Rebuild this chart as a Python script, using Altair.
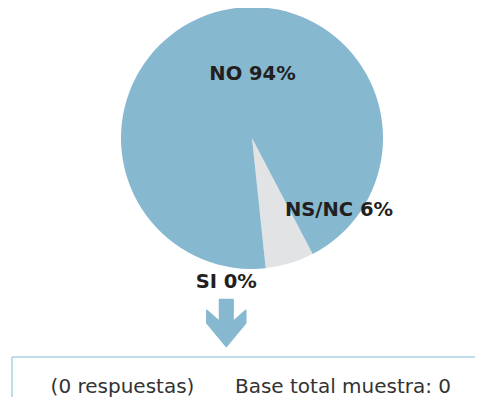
import altair as alt
import pandas as pd
import math

categorias = ["NS/NC", "SI", "NO"]
valores = [6, 0, 94]
colores = ["#E2E3E5", "#86B8D0", "#86B8D0"]
respuestas = 0
base_total = 0

df = pd.DataFrame({
    "categoria": categorias,
    "valor": valores,
    "orden": list(range(len(categorias))),
})
df["etiqueta"] = df["categoria"] + " " + df["valor"].astype(str) + "%"

start = math.radians(152.4)

W, H = 467, 389
CX, CY, R = 244, 130, 131

base = alt.Chart(df)

pie = base.mark_arc(radius=R, stroke=None).encode(
    x=alt.value(CX),
    y=alt.value(CY),
    theta=alt.Theta("valor:Q", stack=True, scale=alt.Scale(range=[start, start + 2 * math.pi])),
    order=alt.Order("orden:Q"),
    color=alt.Color("categoria:N", scale=alt.Scale(domain=categorias, range=colores), legend=None),
)

label_pos = {"NO": (244.5, 65.5), "NS/NC": (331, 201.7), "SI": (218.3, 274)}
labels = []
for cat, (lx, ly) in label_pos.items():
    labels.append(
        base.transform_filter(alt.datum.categoria == cat)
        .mark_text(font="DejaVu Sans", fontWeight="bold", fontSize=19.5, color="#231F20",
                   align="center", baseline="middle")
        .encode(x=alt.value(lx), y=alt.value(ly), text="etiqueta:N")
    )

arrow_path = ("M -0.29 -1 L 0.29 -1 L 0.29 -0.06 L 0.83 -0.54 L 0.83 0 L 0 1 "
              "L -0.83 0 L -0.83 -0.54 L -0.29 -0.06 Z")
arrow = base.transform_filter(alt.datum.orden == 0).mark_point(
    shape=arrow_path, filled=True, fill="#86B8D0", stroke="#86B8D0",
    strokeWidth=1.5, strokeJoin="round", opacity=1, size=2200,
).encode(x=alt.value(218.3), y=alt.value(315))

box_top = base.transform_filter(alt.datum.orden == 0).mark_rule(
    color="#A9D0E3", strokeWidth=1.5
).encode(x=alt.value(4), x2=alt.value(W + 20), y=alt.value(349))
box_left = base.transform_filter(alt.datum.orden == 0).mark_rule(
    color="#A9D0E3", strokeWidth=1.5
).encode(x=alt.value(4), y=alt.value(349), y2=alt.value(H + 20))

texto1 = base.transform_filter(alt.datum.orden == 0).mark_text(
    font="DejaVu Sans", fontSize=20, color="#333333", align="center", baseline="middle"
).encode(x=alt.value(114.5), y=alt.value(379), text=alt.value(f"({respuestas} respuestas)"))
texto2 = base.transform_filter(alt.datum.orden == 0).mark_text(
    font="DejaVu Sans", fontSize=20, color="#333333", align="center", baseline="middle"
).encode(x=alt.value(335), y=alt.value(379), text=alt.value(f"Base total muestra: {base_total}"))

chart = alt.layer(pie, *labels, arrow, box_top, box_left, texto1, texto2).properties(
    width=W, height=H, padding=0, autosize=alt.AutoSizeParams(type="none"),
).configure_view(stroke=None)

chart.save("out.html", embed_options={"renderer": "svg", "actions": False})
